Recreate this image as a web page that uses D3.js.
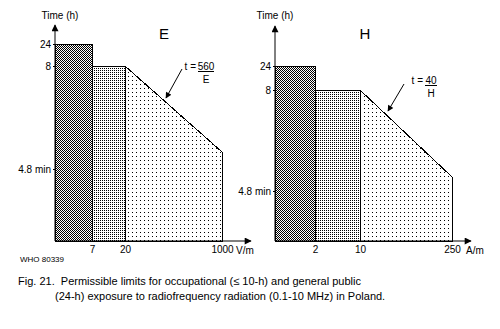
<!DOCTYPE html>
<html>
<head>
<meta charset="utf-8">
<script src="https://cdn.jsdelivr.net/npm/d3@7"></script>
<style>
  body { margin: 0; background: #fff; }
  svg { display: block; }
  text { font-family: "Liberation Sans", Arial, sans-serif; fill: #000; white-space: pre; }
</style>
</head>
<body>
<svg id="chart" width="500" height="329"></svg>
<script>
// Electric field panel: band boundaries (V/m) and permitted time (h) at each band's start/end
const eBounds = [0, 7, 20, 1000];
const eTimes = [[24, 24], [8, 8], [8, 0.56]];
const eTicks = [7, 20, 1000];

// Magnetic field panel: band boundaries (A/m) and permitted time (h)
const hBounds = [0, 2, 10, 250];
const hTimes = [[24, 24], [8, 8], [8, 0.16]];
const hTicks = [2, 10, 250];

// Time axis ticks (h); 0.08 h = 4.8 min
const timeTicks = [24, 8, 0.08];
const timeLabels = ["24", "8", "4.8 min"];

const svg = d3.select("#chart");
const defs = svg.append("defs");

// Fill patterns: dense checker, fine dots, sparse dots
function pattern(id, size, dots) {
  const p = defs.append("pattern")
    .attr("id", id).attr("patternUnits", "userSpaceOnUse")
    .attr("width", size).attr("height", size);
  p.append("rect").attr("width", size).attr("height", size).attr("fill", "#fff");
  dots.forEach(([x, y]) => p.append("rect").attr("x", x).attr("y", y)
    .attr("width", 1).attr("height", 1).attr("fill", "#000"));
}
pattern("fill0", 2, [[0, 0], [1, 1]]);
pattern("fill1", 2, [[0, 0]]);
pattern("fill2", 4, [[0, 0]]);

// Arrowheads
defs.append("marker").attr("id", "axisHead")
  .attr("viewBox", "0 0 10 10").attr("refX", 9).attr("refY", 5)
  .attr("markerUnits", "userSpaceOnUse").attr("markerWidth", 8).attr("markerHeight", 7)
  .attr("orient", "auto")
  .append("path").attr("d", "M0,0L10,5L0,10Z").attr("fill", "#000");
defs.append("marker").attr("id", "noteHead")
  .attr("viewBox", "0 0 10 10").attr("refX", 9).attr("refY", 5)
  .attr("markerUnits", "userSpaceOnUse").attr("markerWidth", 8).attr("markerHeight", 6)
  .attr("orient", "auto")
  .append("path").attr("d", "M0,0L10,5L0,10Z").attr("fill", "#000");

const panels = [
  {
    bounds: eBounds, times: eTimes, ticks: eTicks, unit: "V/m", letter: "E",
    x: d3.scaleLinear().domain(eBounds).range([55, 92, 125, 222]),
    y: d3.scaleLinear().domain([0, 0.08, 0.56, 8, 24]).range([241, 169, 152, 66, 44]),
    axisTop: 25, axisRight: 251, titleX: 60, letterX: 164,
    note: { num: "560", den: "E", fx: 206, fw: 8, ty: 66, from: [182, 69], to: [166, 98] }
  },
  {
    bounds: hBounds, times: hTimes, ticks: hTicks, unit: "A/m", letter: "H",
    x: d3.scaleLinear().domain(hBounds).range([275, 315, 360, 452]),
    y: d3.scaleLinear().domain([0, 0.08, 0.16, 8, 24]).range([241, 191, 177, 90, 66]),
    axisTop: 26, axisRight: 471, titleX: 275, letterX: 365,
    note: { num: "40", den: "H", fx: 431, fw: 6, ty: 80, from: [404, 84], to: [388, 111] }
  }
];

panels.forEach(p => {
  const g = svg.append("g");
  const x = p.x, y = p.y;
  const x0 = x.range()[0], y0 = y.range()[0];

  // Exposure bands
  const bands = p.times.map((t, i) => ({ a: p.bounds[i], b: p.bounds[i + 1], t0: t[0], t1: t[1], i }));
  g.selectAll("path.band").data(bands).join("path")
    .attr("class", "band")
    .attr("d", d => d3.line()([
      [x(d.a), y(0)], [x(d.a), y(d.t0)], [x(d.b), y(d.t1)], [x(d.b), y(0)]
    ]) + "Z")
    .attr("fill", d => `url(#fill${d.i})`)
    .attr("stroke", "#000").attr("stroke-width", 1)
    .attr("shape-rendering", "crispEdges");

  // Axes with arrowheads
  g.append("line").attr("x1", x0).attr("y1", y0).attr("x2", x0).attr("y2", p.axisTop)
    .attr("stroke", "#000").attr("marker-end", "url(#axisHead)");
  g.append("line").attr("x1", x0).attr("y1", y0).attr("x2", p.axisRight).attr("y2", y0)
    .attr("stroke", "#000").attr("marker-end", "url(#axisHead)");

  const yAxis = g.append("g").attr("transform", `translate(${x0},0)`)
    .call(d3.axisLeft(y).tickValues(timeTicks).tickFormat((d, i) => timeLabels[i])
      .tickSize(2).tickPadding(2));
  yAxis.select(".domain").remove();
  yAxis.selectAll("text").attr("font-size", 10).attr("font-family", null);

  const xAxis = g.append("g").attr("transform", `translate(0,${y0})`)
    .call(d3.axisBottom(x).tickValues(p.ticks).tickFormat(d3.format("d"))
      .tickSize(0).tickPadding(5));
  xAxis.select(".domain").remove();
  xAxis.selectAll("text").attr("font-size", 10).attr("font-family", null);

  const last = p.ticks[p.ticks.length - 1];
  g.append("text").attr("x", x(last) + 14).attr("y", y0 + 13)
    .attr("font-size", 10).text(p.unit);

  // Axis title and panel letter
  g.append("text").attr("x", p.titleX).attr("y", 19).attr("text-anchor", "middle")
    .attr("font-size", 10).text("Time (h)");
  g.append("text").attr("x", p.letterX).attr("y", 39).attr("text-anchor", "middle")
    .attr("font-size", 15).text(p.letter);

  // Formula annotation with pointer
  const n = p.note;
  g.append("text").attr("x", n.fx - n.fw - 2).attr("y", n.ty + 3.5)
    .attr("text-anchor", "end").attr("font-size", 10).text("t =");
  g.append("text").attr("x", n.fx).attr("y", n.ty + 3.5).attr("text-anchor", "middle")
    .attr("font-size", 10).text(n.num);
  g.append("line").attr("x1", n.fx - n.fw).attr("x2", n.fx + n.fw)
    .attr("y1", n.ty + 5.5).attr("y2", n.ty + 5.5).attr("stroke", "#000");
  g.append("text").attr("x", n.fx).attr("y", n.ty + 17).attr("text-anchor", "middle")
    .attr("font-size", 10).text(n.den);
  g.append("line").attr("x1", n.from[0]).attr("y1", n.from[1])
    .attr("x2", n.to[0]).attr("y2", n.to[1])
    .attr("stroke", "#000").attr("marker-end", "url(#noteHead)");
});

// Figure code and caption
svg.append("text").attr("x", 20).attr("y", 262).attr("font-size", 8).text("WHO 80339");
svg.append("text").attr("x", 18).attr("y", 285).attr("font-size", 11)
  .text("Fig. 21.  Permissible limits for occupational (\u2264 10-h) and general public");
svg.append("text").attr("x", 55).attr("y", 300).attr("font-size", 11)
  .text("(24-h) exposure to radiofrequency radiation (0.1-10 MHz) in Poland.");
</script>
</body>
</html>
